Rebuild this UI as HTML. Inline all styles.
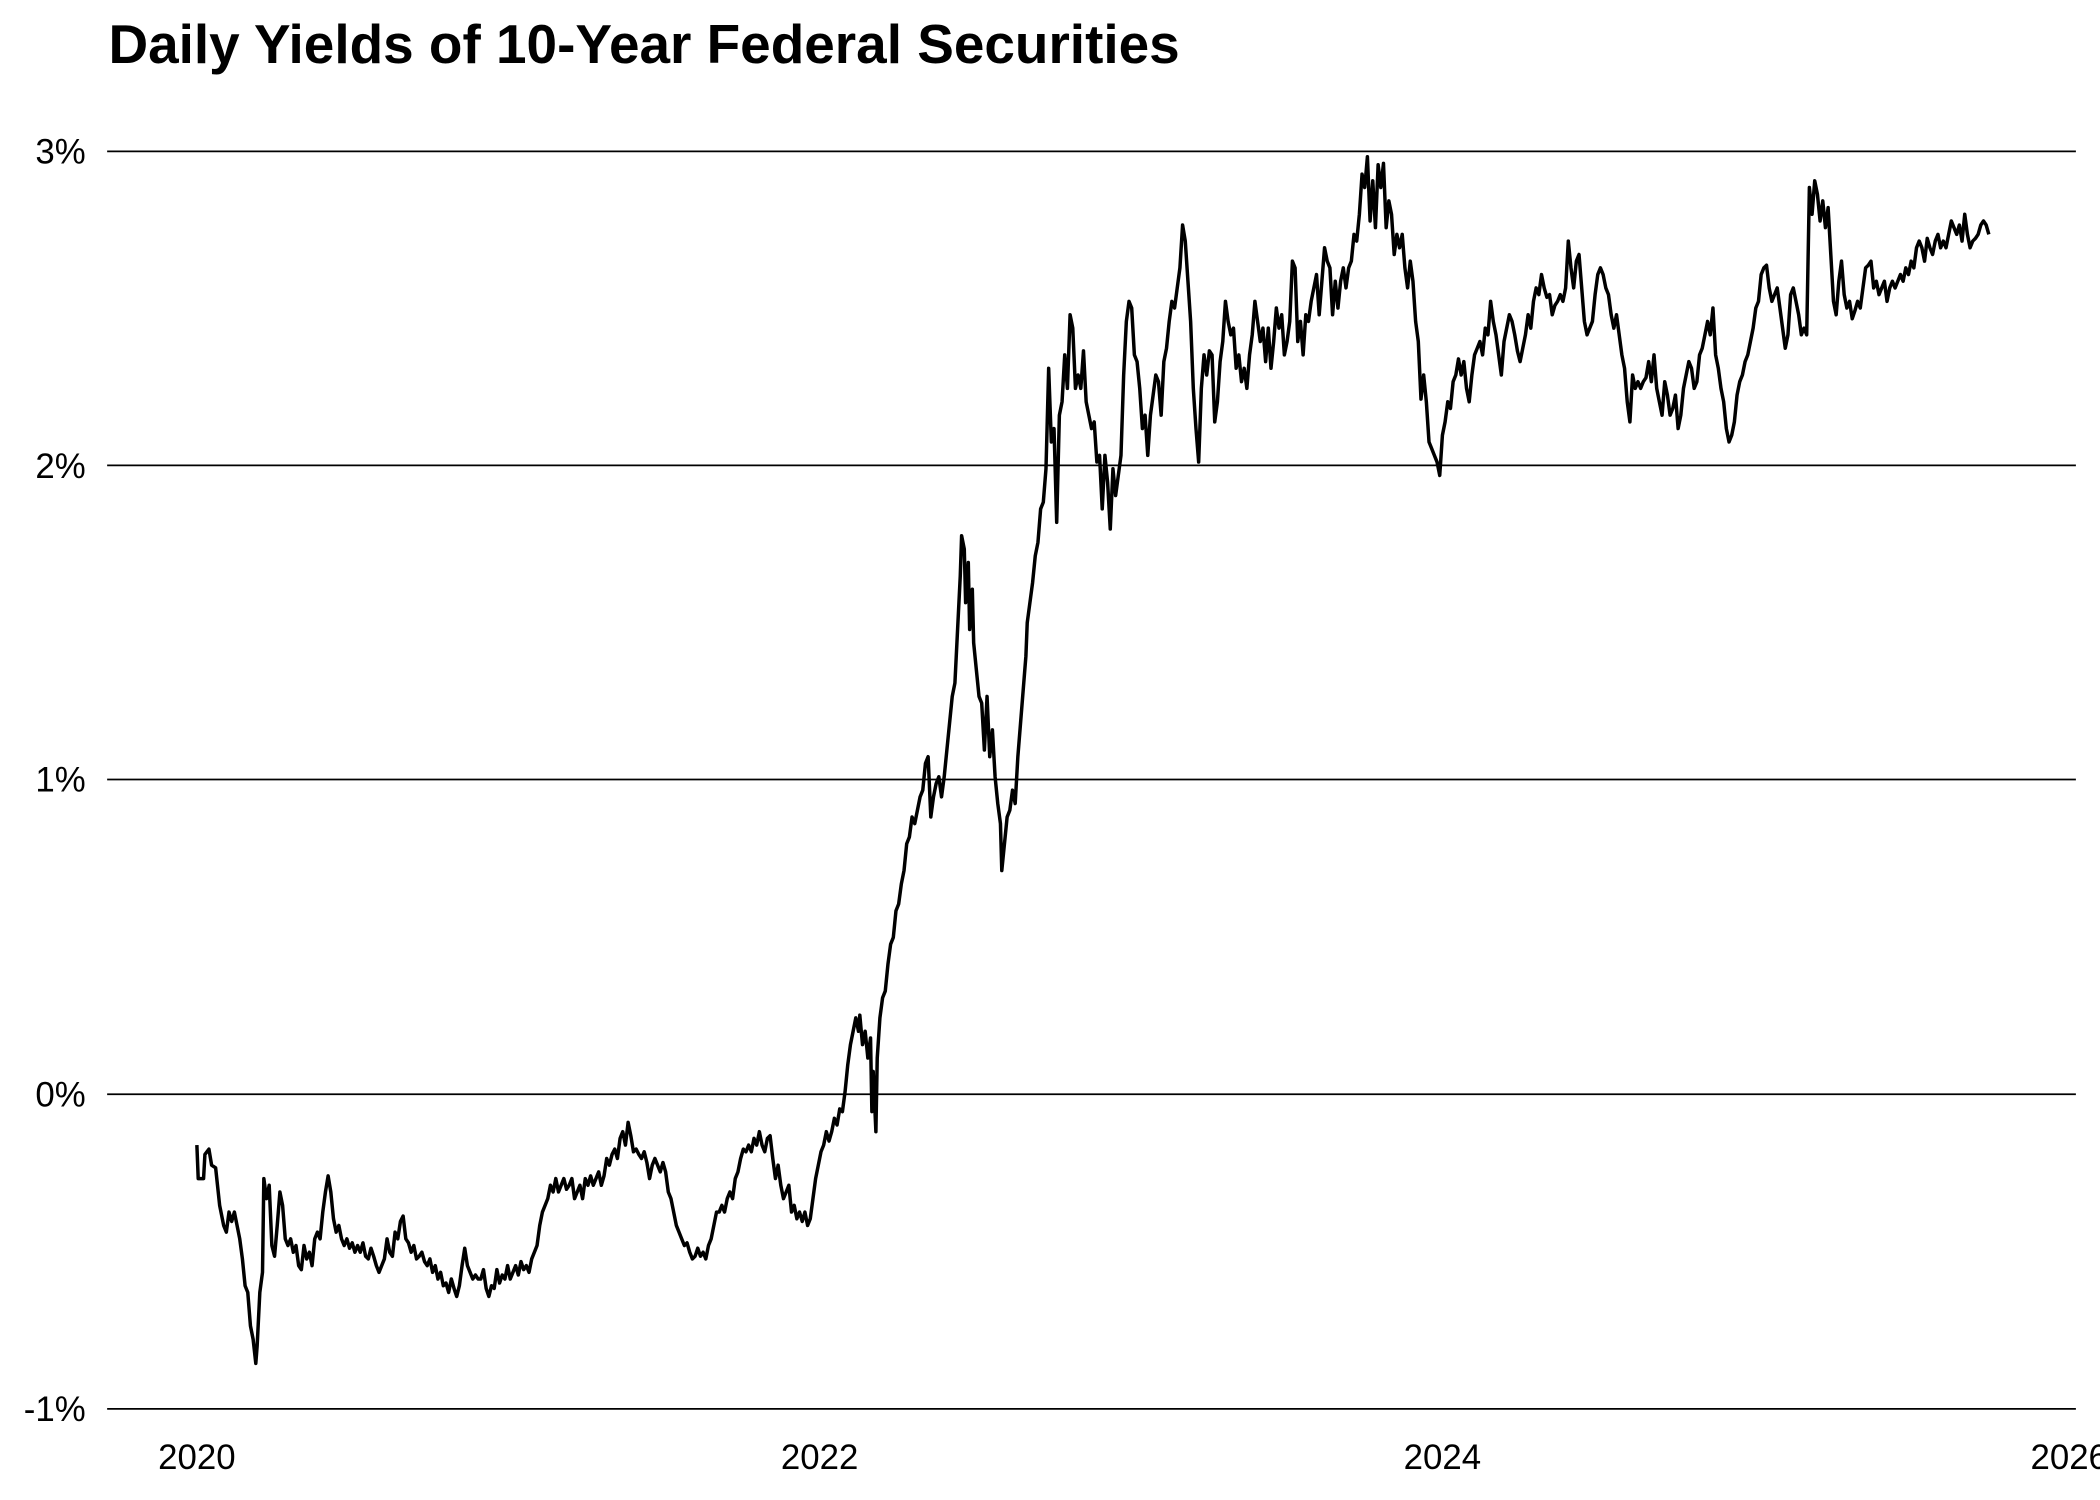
<!DOCTYPE html>
<html><head><meta charset="utf-8"><style>
html,body{margin:0;padding:0;background:#fff}
svg{display:block}
text{font-family:"Liberation Sans",Arial,sans-serif;fill:#000}
</style></head><body>
<svg width="2100" height="1500" viewBox="0 0 1568 1120" xmlns="http://www.w3.org/2000/svg">
<rect width="1568" height="1120" fill="#fff"/>
<text x="81" y="47" font-size="41" font-weight="bold">Daily Yields of 10-Year Federal Securities</text>
<g stroke="#000" stroke-width="1.3">
<line x1="80" y1="113" x2="1550" y2="113"/>
<line x1="80" y1="347.5" x2="1550" y2="347.5"/>
<line x1="80" y1="582" x2="1550" y2="582"/>
<line x1="80" y1="817" x2="1550" y2="817"/>
<line x1="80" y1="1052" x2="1550" y2="1052"/>
</g>
<g font-size="26" text-anchor="end">
<text x="64" y="122">3%</text>
<text x="64" y="357">2%</text>
<text x="64" y="591">1%</text>
<text x="64" y="826">0%</text>
<text x="64" y="1061">-1%</text>
</g>
<g font-size="26" text-anchor="middle">
<text x="147" y="1097">2020</text>
<text x="612" y="1097">2022</text>
<text x="1077" y="1097">2024</text>
<text x="1545" y="1097">2026</text>
</g>
<polyline fill="none" stroke="#000" stroke-width="2.6" stroke-linejoin="round" points="147,855 148,880 152,880 153,862 156,858 158,870 161,872 164,900 167,915 169,920 171,905 173,912 175,905 177,915 179,925 181,940 183,960 185,965 187,990 189,1000 191,1018 192,1005 194,965 196,950 197,880 199,895 201,885 203,930 205,938 207,915 209,890 211,900 213,925 215,930 217,925 219,935 221,930 223,945 225,948 227,930 229,940 231,935 233,945 235,925 237,920 239,925 241,905 243,890 245,878 247,890 249,910 251,920 253,915 255,925 257,930 259,925 261,932 263,928 265,935 267,930 269,935 271,928 273,938 275,940 277,932 279,938 281,945 283,950 285,945 287,940 289,925 291,935 293,938 295,920 297,925 299,912 301,908 303,925 305,928 307,935 309,930 311,940 313,938 315,935 317,942 319,945 321,940 323,950 325,945 327,955 329,950 331,960 333,958 335,965 337,955 339,962 341,968 343,960 345,945 347,932 349,945 351,950 353,955 355,952 357,955 359,955 361,948 363,962 365,968 367,960 369,962 371,948 373,958 375,952 377,955 379,945 381,955 383,950 385,945 387,952 389,942 391,948 393,945 395,950 397,940 399,935 401,930 403,915 405,905 407,900 409,895 411,885 413,890 415,880 417,890 419,885 421,880 423,888 425,885 427,880 429,895 431,890 433,885 435,895 437,880 439,885 441,878 443,885 445,880 447,875 449,885 451,878 453,865 455,870 457,862 459,858 461,865 463,850 465,845 467,855 469,838 471,848 473,860 475,858 477,862 479,865 481,860 483,868 485,880 487,870 489,865 491,870 493,875 495,868 497,875 499,890 501,895 503,905 505,915 507,920 509,925 511,930 513,928 515,935 517,940 519,938 521,932 523,938 525,935 527,940 529,930 531,925 533,915 535,905 537,905 539,900 541,905 543,895 545,890 547,895 549,880 551,875 553,865 555,858 557,860 559,855 561,860 563,850 565,855 567,845 569,855 571,860 573,850 575,848 577,865 579,880 581,870 583,885 585,895 587,890 589,885 591,905 593,900 595,910 597,905 599,912 601,905 603,915 605,910 607,895 609,880 611,870 613,860 615,855 617,845 619,852 621,845 623,835 625,840 627,828 629,830 631,815 633,795 635,780 637,770 639,760 641,770 642,758 644,780 646,770 648,790 650,775 651,830 652,800 654,845 655,790 657,760 659,745 661,740 663,720 665,705 667,700 669,680 671,675 673,660 675,650 677,630 679,625 681,610 683,615 685,605 687,595 689,590 691,570 693,565 695,610 697,595 699,585 701,580 703,595 705,580 707,560 709,540 711,520 713,510 715,470 717,430 718,400 720,410 721,450 723,420 724,470 726,440 727,480 729,500 731,520 733,525 735,560 737,520 739,565 741,545 743,580 745,600 747,615 748,650 750,630 752,610 754,605 756,590 758,600 760,565 762,540 764,515 766,490 767,465 769,450 771,435 773,415 775,405 777,380 779,375 781,350 783,275 785,330 787,320 789,390 791,310 793,300 795,265 797,290 799,235 801,245 803,290 805,280 807,290 809,262 811,300 813,310 815,320 817,315 819,345 821,340 823,380 825,340 827,360 829,395 831,350 833,370 835,355 837,340 839,280 841,240 843,225 845,230 847,265 849,270 851,290 853,320 855,310 857,340 859,310 861,295 863,280 865,285 867,310 869,270 871,260 873,240 875,225 877,230 879,215 881,200 883,168 885,180 887,210 889,240 891,290 893,320 895,345 897,290 899,265 901,280 903,262 905,265 907,315 909,300 911,270 913,255 915,225 917,240 919,250 921,245 923,275 925,265 927,285 929,275 931,290 933,265 935,250 937,225 939,240 941,255 943,245 945,270 947,245 949,275 951,255 953,230 955,245 957,235 959,265 961,255 963,240 965,195 967,200 969,255 971,240 973,265 975,235 977,240 979,225 981,215 983,205 985,235 987,210 989,185 991,195 993,200 995,235 997,210 999,230 1001,210 1003,200 1005,215 1007,200 1009,195 1011,175 1013,180 1015,160 1017,130 1019,140 1021,117 1023,165 1025,135 1027,170 1029,123 1031,140 1033,122 1035,170 1037,150 1039,160 1041,190 1043,175 1045,185 1047,175 1049,200 1051,215 1053,195 1055,210 1057,240 1059,255 1061,298 1063,280 1065,300 1067,330 1069,335 1071,340 1073,345 1075,355 1077,325 1079,315 1081,300 1083,305 1085,285 1087,280 1089,268 1091,280 1093,270 1095,290 1097,300 1099,280 1101,265 1103,260 1105,255 1107,265 1109,245 1111,250 1113,225 1115,240 1117,250 1119,265 1121,280 1123,255 1125,245 1127,235 1129,240 1131,250 1133,262 1135,270 1137,260 1139,250 1141,235 1143,245 1145,225 1147,215 1149,220 1151,205 1153,215 1155,222 1157,220 1159,235 1161,228 1163,225 1165,220 1167,225 1169,215 1171,180 1173,200 1175,215 1177,195 1179,190 1181,215 1183,240 1185,250 1187,245 1189,240 1191,220 1193,205 1195,200 1197,205 1199,215 1201,220 1203,235 1205,245 1207,235 1209,250 1211,265 1213,275 1215,300 1217,315 1219,280 1221,290 1223,285 1225,290 1227,285 1229,282 1231,270 1233,285 1235,265 1237,290 1239,300 1241,310 1243,285 1245,295 1247,310 1249,305 1251,295 1253,320 1255,310 1257,290 1259,280 1261,270 1263,275 1265,290 1267,285 1269,265 1271,260 1273,250 1275,240 1277,250 1279,230 1281,265 1283,275 1285,290 1287,300 1289,320 1291,330 1293,325 1295,315 1297,295 1299,285 1301,280 1303,270 1305,265 1307,255 1309,245 1311,230 1313,225 1315,205 1317,200 1319,198 1321,215 1323,225 1325,220 1327,215 1329,230 1331,245 1333,260 1335,250 1337,220 1339,215 1341,225 1343,235 1345,250 1347,245 1349,250 1351,140 1353,160 1355,135 1357,145 1359,165 1361,150 1363,170 1365,155 1367,190 1369,225 1371,235 1373,210 1375,195 1377,220 1379,230 1381,225 1383,238 1385,232 1387,225 1389,230 1391,215 1393,200 1395,198 1397,195 1399,215 1401,210 1403,220 1405,215 1407,210 1409,225 1411,215 1413,210 1415,215 1417,210 1419,205 1421,210 1423,200 1425,205 1427,195 1429,200 1431,185 1433,180 1435,185 1437,195 1439,178 1441,185 1443,190 1445,180 1447,175 1449,185 1451,180 1453,185 1455,175 1457,165 1459,170 1461,175 1463,168 1465,180 1467,160 1469,175 1471,185 1473,180 1475,178 1477,175 1479,168 1481,165 1483,168 1485,175"/>
</svg>
</body></html>
